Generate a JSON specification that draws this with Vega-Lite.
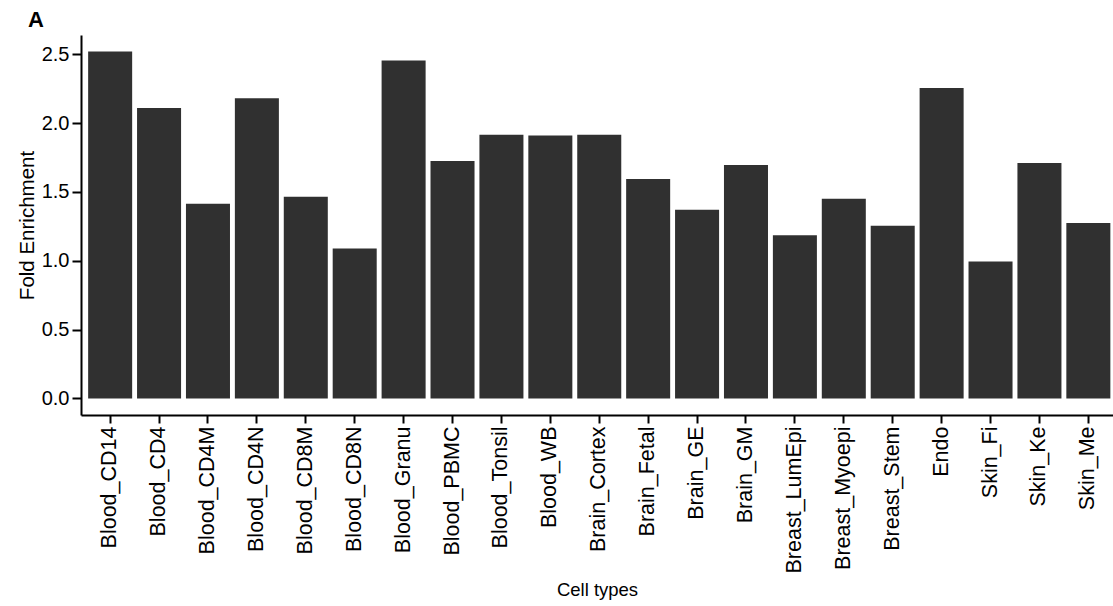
{
  "$schema": "https://vega.github.io/schema/vega-lite/v6.json",
  "width": 1032,
  "height": 380,
  "autosize": {"type": "none"},
  "padding": {"left": 81, "top": 35, "right": 0, "bottom": 191},
  "background": "white",
  "title": {
    "text": "A",
    "anchor": "start",
    "frame": "group",
    "dx": -53,
    "dy": 21,
    "offset": 7,
    "baseline": "alphabetic",
    "font": "Liberation Sans",
    "fontSize": 22,
    "fontWeight": "bold",
    "color": "#000000"
  },
  "config": {
    "view": {"stroke": null},
    "font": "Liberation Sans"
  },
  "data": {
    "values": [
      {"cell": "Blood_CD14", "fe": 2.52},
      {"cell": "Blood_CD4", "fe": 2.11},
      {"cell": "Blood_CD4M", "fe": 1.415},
      {"cell": "Blood_CD4N", "fe": 2.18},
      {"cell": "Blood_CD8M", "fe": 1.465},
      {"cell": "Blood_CD8N", "fe": 1.09},
      {"cell": "Blood_Granu", "fe": 2.455},
      {"cell": "Blood_PBMC", "fe": 1.725},
      {"cell": "Blood_Tonsil", "fe": 1.915},
      {"cell": "Blood_WB", "fe": 1.91},
      {"cell": "Brain_Cortex", "fe": 1.915},
      {"cell": "Brain_Fetal", "fe": 1.595},
      {"cell": "Brain_GE", "fe": 1.37},
      {"cell": "Brain_GM", "fe": 1.695},
      {"cell": "Breast_LumEpi", "fe": 1.185},
      {"cell": "Breast_Myoepi", "fe": 1.45},
      {"cell": "Breast_Stem", "fe": 1.255},
      {"cell": "Endo", "fe": 2.255},
      {"cell": "Skin_Fi", "fe": 0.995},
      {"cell": "Skin_Ke", "fe": 1.71},
      {"cell": "Skin_Me", "fe": 1.275}
    ]
  },
  "mark": {"type": "bar", "color": "#303030"},
  "encoding": {
    "x": {
      "field": "cell",
      "type": "nominal",
      "sort": null,
      "scale": {"paddingInner": 0.1, "paddingOuter": 0.1, "align": 0.73},
      "axis": {
        "title": "Cell types",
        "titleFontSize": 18.5,
        "titleFontWeight": "normal",
        "titleColor": "#000000",
        "titlePadding": 8,
        "labelAngle": -90,
        "labelFontSize": 21.5,
        "labelColor": "#000000",
        "labelPadding": 3,
        "domainColor": "#000000",
        "domainWidth": 2,
        "tickColor": "#000000",
        "tickWidth": 2,
        "tickSize": 8,
        "grid": false
      }
    },
    "y": {
      "field": "fe",
      "type": "quantitative",
      "scale": {"domain": [-0.12, 2.64], "nice": false, "zero": false},
      "axis": {
        "title": "Fold Enrichment",
        "titleFontSize": 20.5,
        "titleFontWeight": "normal",
        "titleColor": "#000000",
        "titlePadding": 4,
        "values": [0, 0.5, 1, 1.5, 2, 2.5],
        "format": ".1f",
        "labelFontSize": 20,
        "labelColor": "#000000",
        "labelPadding": 3,
        "domainColor": "#000000",
        "domainWidth": 2,
        "tickColor": "#000000",
        "tickWidth": 2,
        "tickSize": 9,
        "grid": false
      }
    }
  }
}
